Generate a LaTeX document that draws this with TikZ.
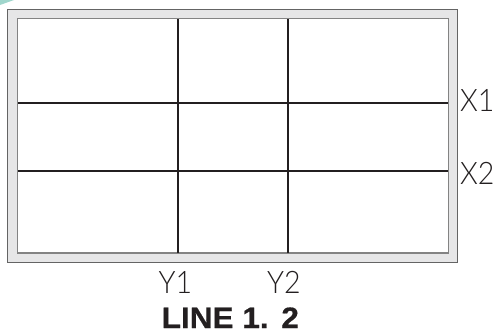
\documentclass[tikz,border=0pt]{standalone}
\usepackage{fontspec}
\usepackage{xcolor}
\usetikzlibrary{positioning}
\setmainfont{Liberation Sans}
\newfontfamily\thinfont[FakeStretch=0.92]{Lato Light}
\newfontfamily\headfont[FakeStretch=1.07,FakeBold=0.6]{Liberation Sans Bold}
\definecolor{rahmengrau}{RGB}{230,230,231}
\definecolor{randlinie}{RGB}{100,100,100}
\definecolor{gitter}{RGB}{35,31,32}
\definecolor{eckteal}{RGB}{160,214,204}

\begin{document}
\begin{tikzpicture}[x=1pt,y=-1pt,
    gitterlinie/.style={draw=gitter, line width=2.7pt},
    achsmarke/.style={inner sep=0pt, font=\thinfont\fontsize{31}{31}\selectfont, text=gitter}]
    \useasboundingbox (0,0) rectangle (495,333);
    % Rahmen mit grauem Rand
    \fill[eckteal] (0,0) -- (14,0) -- (0,5) -- cycle;
    \draw[fill=rahmengrau, draw=randlinie, line width=1pt] (7.5,9.5) rectangle (457.5,262);
    \draw[fill=white, draw=randlinie!80, line width=1.2pt] (17.5,18.5) rectangle (448.5,253);
    \coordinate (y1o) at (178,19); \coordinate (y1u) at (178,252.5);
    \coordinate (y2o) at (288,19); \coordinate (y2u) at (288,252.5);
    \coordinate (x1l) at (18,103); \coordinate (x1r) at (448,103);
    \coordinate (x2l) at (18,171); \coordinate (x2r) at (448,171);
    \draw[gitterlinie] (y1o) -- (y1u);
    \draw[gitterlinie] (y2o) -- (y2u);
    \draw[gitterlinie] (x1l) -- (x1r);
    \draw[gitterlinie] (x2l) -- (x2r);
    \node[achsmarke, anchor=west] (x1) at (460,100) {X1};
    \node[achsmarke, anchor=west] (x2) at (460,173) {X2};
    \node[achsmarke] (y1) at (175.5,282.5) {Y1};
    \node[achsmarke] (y2) at (284,282.5) {Y2};
    \node[inner sep=0pt, anchor=base west, text=gitter, font=\headfont\fontsize{29.5}{29.5}\selectfont] (titel) at (161.5,328) {LINE 1.\hspace{1pt} 2};
\end{tikzpicture}
\end{document}
